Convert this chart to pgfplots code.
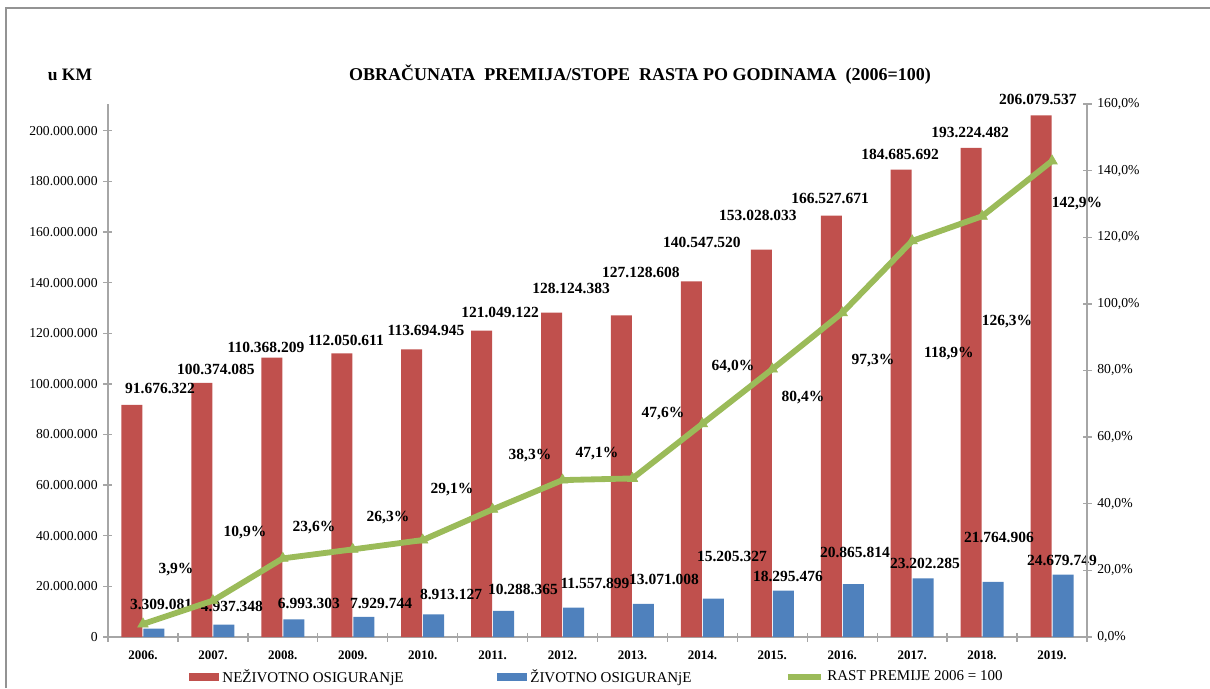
\documentclass[border=0pt]{standalone}
\usepackage{fontspec}
\setmainfont{Liberation Serif}
\usepackage{pgfplots}
\pgfplotsset{compat=1.18}
\usepackage{pgfplotstable}
\definecolor{cred}{HTML}{C0504D}
\definecolor{cblue}{HTML}{4F81BD}
\definecolor{cgreen}{HTML}{9BBB59}
\definecolor{axgray}{HTML}{A6A6A6}

\pgfplotstableread{
x red blue pct
0 91676322 3309081 3.9
1 100374085 4937348 10.9
2 110368209 6993303 23.6
3 112050611 7929744 26.3
4 113694945 8913127 29.1
5 121049122 10288365 38.3
6 128124383 11557899 47.1
7 127128608 13071008 47.6
8 140547520 15205327 64.0
9 153028033 18295476 80.4
10 166527671 20865814 97.3
11 184685692 23202285 118.9
12 193224482 21764906 126.3
13 206079537 24679749 142.9
}\data

\tikzset{dlab/.style={font=\fontsize{9.3}{11}\selectfont\bfseries, inner sep=0pt}}

\begin{document}
\begin{tikzpicture}
\useasboundingbox (0,0) rectangle (726pt,412.8pt);
\draw[gray!85, line width=0.8pt] (3.6pt,0) -- (3.6pt,408pt) -- (726pt,408pt);
\node[font=\fontsize{10.8}{12}\selectfont\bfseries] at (384pt,367.8pt) {OBRAČUNATA\ \ PREMIJA/STOPE\ \ RASTA PO GODINAMA\ \ (2006=100)};
\node[font=\fontsize{10.5}{12}\selectfont\bfseries] at (42pt,367.8pt) {u KM};

\begin{axis}[
  at={(64.8pt,30.6pt)}, anchor=south west,
  scale only axis, width=587.4pt, height=319.8pt,
  xmin=-0.5, xmax=13.5, ymin=0, ymax=210600000,
  axis x line*=bottom, axis y line*=left,
  axis line style={axgray, line width=0.8pt, -},
  tick style={axgray, line width=0.8pt},
  tick align=center, major tick length=5.4pt,
  xtick={-0.5,0.5,1.5,2.5,3.5,4.5,5.5,6.5,7.5,8.5,9.5,10.5,11.5,12.5,13.5},
  x tick label as interval,
  xticklabels={2006.,2007.,2008.,2009.,2010.,2011.,2012.,2013.,2014.,2015.,2016.,2017.,2018.,2019.},
  xticklabel style={font=\fontsize{7.8}{9}\selectfont\bfseries, yshift=-2pt},
  ytick={0,20000000,40000000,60000000,80000000,100000000,120000000,140000000,160000000,180000000,200000000},
  scaled y ticks=false,
  yticklabel style={font=\fontsize{8.2}{10}\selectfont, /pgf/number format/.cd, fixed, precision=0, 1000 sep={.}, assume math mode=true},
  clip=false,
  legend style={at={(0.5,-0.075)}, anchor=center, draw=none, legend columns=3,
    font=\fontsize{9}{11}\selectfont,
    /tikz/every even column/.append style={column sep=54pt}},
]
\addplot[ybar, bar width=12.6pt, bar shift=-6.6pt, fill=cred, draw=none,
  legend image code/.code={\fill[cred] (0pt,-2.4pt) rectangle (18pt,2.4pt);}]
  table[x=x,y=red]{\data};
\addlegendentry{NEŽIVOTNO OSIGURANjE}
\addplot[ybar, bar width=12.6pt, bar shift=6.6pt, fill=cblue, draw=none,
  legend image code/.code={\fill[cblue] (0pt,-2.4pt) rectangle (18pt,2.4pt);}]
  table[x=x,y=blue]{\data};
\addlegendentry{ŽIVOTNO OSIGURANjE}
\addlegendimage{legend image code/.code={\draw[cgreen, line width=3.5pt] (0pt,0pt) -- (20pt,0pt);}}
\addlegendentry{RAST PREMIJE 2006 = 100}

% labels for red bars
\node[dlab] at (axis cs:0.244,98.0e6) {91.676.322};
\node[dlab] at (axis cs:1.044,105.9e6) {100.374.085};
\node[dlab] at (axis cs:1.759,114.6e6) {110.368.209};
\node[dlab] at (axis cs:2.903,117.3e6) {112.050.611};
\node[dlab] at (axis cs:4.047,121.3e6) {113.694.945};
\node[dlab] at (axis cs:5.106,128.4e6) {121.049.122};
\node[dlab] at (axis cs:6.121,137.9e6) {128.124.383};
\node[dlab] at (axis cs:7.122,144.2e6) {127.128.608};
\node[dlab] at (axis cs:7.994,155.7e6) {140.547.520};
\node[dlab] at (axis cs:8.795,166.7e6) {153.028.033};
\node[dlab] at (axis cs:9.825,173.1e6) {166.527.671};
\node[dlab] at (axis cs:10.826,190.8e6) {184.685.692};
\node[dlab] at (axis cs:11.827,199.5e6) {193.224.482};
\node[dlab] at (axis cs:12.799,212.2e6) {206.079.537};
% labels for blue bars
\node[dlab] at (axis cs:0.258,13.0e6) {3.309.081};
\node[dlab] at (axis cs:1.273,12.2e6) {4.937.348};
\node[dlab] at (axis cs:2.374,13.4e6) {6.993.303};
\node[dlab] at (axis cs:3.404,13.4e6) {7.929.744};
\node[dlab] at (axis cs:4.405,17.0e6) {8.913.127};
\node[dlab] at (axis cs:5.434,18.6e6) {10.288.365};
\node[dlab] at (axis cs:6.464,21.3e6) {11.557.899};
\node[dlab] at (axis cs:7.451,22.9e6) {13.071.008};
\node[dlab] at (axis cs:8.423,32.0e6) {15.205.327};
\node[dlab] at (axis cs:9.224,24.1e6) {18.295.476};
\node[dlab] at (axis cs:10.182,33.6e6) {20.865.814};
\node[dlab] at (axis cs:11.183,29.2e6) {23.202.285};
\node[dlab] at (axis cs:12.241,39.5e6) {21.764.906};
\node[dlab] at (axis cs:13.142,30.4e6) {24.679.749};
\end{axis}

\begin{axis}[
  at={(64.8pt,30.6pt)}, anchor=south west,
  scale only axis, width=587.4pt, height=319.8pt,
  xmin=-0.5, xmax=13.5, ymin=0, ymax=160,
  axis x line=none, axis y line*=right,
  axis line style={axgray, line width=0.8pt, -},
  tick style={axgray, line width=0.8pt},
  tick align=center, major tick length=5.4pt,
  ytick={0,20,40,60,80,100,120,140,160},
  yticklabel={\pgfmathprintnumber[fixed,fixed zerofill,precision=1,use comma,assume math mode=true]{\tick}\%},
  yticklabel style={font=\fontsize{8.2}{10}\selectfont},
  clip=false,
]
\addplot[cgreen, line width=3.5pt, mark=triangle*, mark size=3.6pt,
  mark options={fill=cgreen, draw=cgreen, line width=0.4pt}]
  table[x=x,y=pct]{\data};
\node[dlab] at (axis cs:0.472,20.1) {3,9\%};
\node[dlab] at (axis cs:1.459,31.5) {10,9\%};
\node[dlab] at (axis cs:2.446,33.0) {23,6\%};
\node[dlab] at (axis cs:3.504,36.0) {26,3\%};
\node[dlab] at (axis cs:4.419,44.4) {29,1\%};
\node[dlab] at (axis cs:5.535,54.6) {38,3\%};
\node[dlab] at (axis cs:6.493,55.2) {47,1\%};
\node[dlab] at (axis cs:7.437,67.2) {47,6\%};
\node[dlab] at (axis cs:8.438,81.1) {64,0\%};
\node[dlab] at (axis cs:9.439,72.0) {80,4\%};
\node[dlab] at (axis cs:10.44,82.9) {97,3\%};
\node[dlab] at (axis cs:11.526,85.0) {118,9\%};
\node[dlab] at (axis cs:12.356,94.6) {126,3\%};
\node[dlab] at (axis cs:13.357,130.0) {142,9\%};
\end{axis}
\end{tikzpicture}
\end{document}
